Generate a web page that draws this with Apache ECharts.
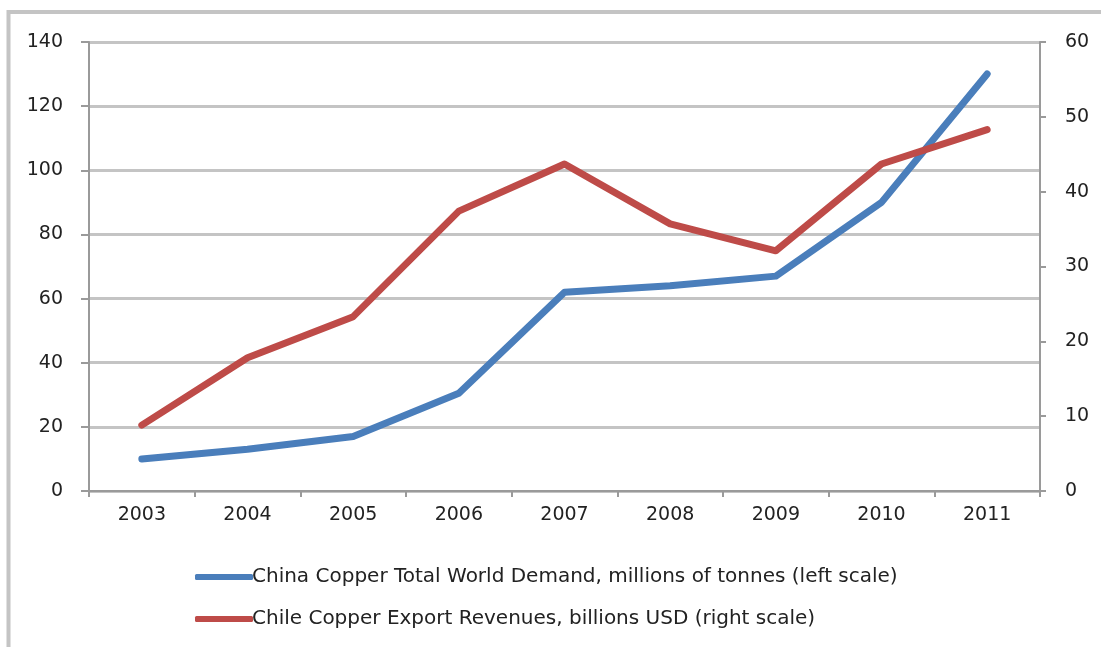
<!DOCTYPE html>
<html>
<head>
<meta charset="utf-8">
<script src="https://cdn.jsdelivr.net/npm/echarts@6/dist/echarts.min.js"></script>
<style>
  html, body { margin: 0; padding: 0; background: #fff; }
  #chart { width: 1101px; height: 647px; }
</style>
</head>
<body>
<div id="chart"></div>
<script>
// Years on the category axis
const years = ['2003', '2004', '2005', '2006', '2007', '2008', '2009', '2010', '2011'];
// China copper demand, millions of tonnes (left axis)
const chinaDemand = [10, 13, 17, 30.5, 62, 64, 67, 90, 130];
// Chile copper export revenues, billions USD (right axis)
const chileRevenue = [8.8, 17.8, 23.3, 37.4, 43.7, 35.7, 32.1, 43.7, 48.3];
// Series names shown in the legend
const seriesNames = [
  'China Copper Total World Demand, millions of tonnes (left scale)',
  'Chile Copper Export Revenues, billions USD (right scale)'
];

const font = 'DejaVu Sans';
const axisGray = '#9a9a9a';
const gridGray = '#c4c4c4';
const textColor = '#222';

const chart = echarts.init(document.getElementById('chart'));
chart.setOption({
  animation: false,
  backgroundColor: '#fff',
  textStyle: { fontFamily: font },
  graphic: [{
    type: 'rect',
    shape: { x: 8.5, y: 12, width: 1200, height: 800 },
    style: { fill: 'none', stroke: '#c4c4c4', lineWidth: 4 },
    z: -1
  }],
  grid: { left: 89, right: 61, top: 42, bottom: 156, containLabel: false },
  legend: {
    orient: 'vertical',
    left: 190,
    top: 562,
    itemWidth: 58,
    itemHeight: 6,
    itemGap: 22,
    icon: 'roundRect',
    textStyle: { fontFamily: font, fontSize: 20, color: textColor, padding: [0, 0, 0, -6] },
    data: seriesNames
  },
  xAxis: {
    type: 'category',
    data: years,
    boundaryGap: true,
    axisLine: { lineStyle: { color: axisGray, width: 2 } },
    axisTick: { show: true, length: 6, inside: false, lineStyle: { color: axisGray, width: 2 } },
    axisLabel: { fontFamily: font, fontSize: 19, color: textColor, margin: 15 }
  },
  yAxis: [{
    type: 'value',
    min: 0, max: 140, interval: 20,
    position: 'left',
    axisLine: { show: true, lineStyle: { color: axisGray, width: 2 } },
    axisTick: { show: true, length: 8, lineStyle: { color: axisGray, width: 2 } },
    splitLine: { show: true, lineStyle: { color: gridGray, width: 3 } },
    axisLabel: { fontFamily: font, fontSize: 19, color: textColor, margin: 26 }
  }, {
    type: 'value',
    min: 0, max: 60, interval: 10,
    position: 'right',
    axisLine: { show: true, lineStyle: { color: axisGray, width: 2 } },
    axisTick: { show: true, length: 6, lineStyle: { color: axisGray, width: 2 } },
    splitLine: { show: false },
    axisLabel: { fontFamily: font, fontSize: 19, color: textColor, margin: 25 }
  }],
  series: [{
    name: seriesNames[0],
    type: 'line',
    yAxisIndex: 0,
    data: chinaDemand,
    showSymbol: false,
    symbol: 'none',
    color: '#4a7ebb',
    lineStyle: { width: 7, color: '#4a7ebb', cap: 'round', join: 'round' }
  }, {
    name: seriesNames[1],
    type: 'line',
    yAxisIndex: 1,
    data: chileRevenue,
    showSymbol: false,
    symbol: 'none',
    color: '#be4b48',
    lineStyle: { width: 7, color: '#be4b48', cap: 'round', join: 'round' }
  }]
});
</script>
</body>
</html>
